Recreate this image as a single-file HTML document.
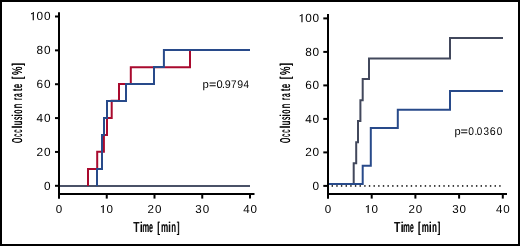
<!DOCTYPE html>
<html><head><meta charset="utf-8"><style>
html,body{margin:0;padding:0;background:#fff;}
body{width:520px;height:246px;overflow:hidden;}
svg{display:block;will-change:transform;text-rendering:geometricPrecision;font-family:"Liberation Sans",sans-serif;}
</style></head><body>
<svg width="520" height="246" viewBox="0 0 520 246">
<rect x="0" y="0" width="520" height="246" fill="#fff"/>
<path d="M59 186 L250 186" fill="none" stroke="#4a5167" stroke-width="2" stroke-linejoin="miter" stroke-linecap="butt"/>
<path d="M88 186 L88 169 L97.2 169 L97.2 151.7 L103.9 151.7 L103.9 135 L107 135 L107 117.9 L111.7 117.9 L111.7 100.7 L119 100.7 L119 84 L130.8 84 L130.8 67.2 L190 67.2 L190 50.1 L250 50.1" fill="none" stroke="#a90a2e" stroke-width="2" stroke-linejoin="miter" stroke-linecap="butt"/>
<path d="M97 186 L97 169 L102 169 L102 135 L104 135 L104 117.9 L107 117.9 L107 101 L126 101 L126 84 L154 84 L154 67 L163.9 67 L163.9 50.1 L250 50.1" fill="none" stroke="#284a8a" stroke-width="2" stroke-linejoin="miter" stroke-linecap="butt"/>
<line x1="59" y1="12.3" x2="59" y2="198.5" stroke="#000" stroke-width="2" stroke-linecap="butt"/>
<line x1="55" y1="16.5" x2="59" y2="16.5" stroke="#000" stroke-width="2" stroke-linecap="butt"/>
<line x1="55" y1="50.36" x2="59" y2="50.36" stroke="#000" stroke-width="2" stroke-linecap="butt"/>
<line x1="55" y1="84.22" x2="59" y2="84.22" stroke="#000" stroke-width="2" stroke-linecap="butt"/>
<line x1="55" y1="118.08" x2="59" y2="118.08" stroke="#000" stroke-width="2" stroke-linecap="butt"/>
<line x1="55" y1="151.94" x2="59" y2="151.94" stroke="#000" stroke-width="2" stroke-linecap="butt"/>
<line x1="55" y1="185.8" x2="59" y2="185.8" stroke="#000" stroke-width="2" stroke-linecap="butt"/>
<line x1="58" y1="194.1" x2="254.5" y2="194.1" stroke="#000" stroke-width="2" stroke-linecap="butt"/>
<line x1="59" y1="194.1" x2="59" y2="198.6" stroke="#000" stroke-width="2" stroke-linecap="butt"/>
<line x1="106.75" y1="194.1" x2="106.75" y2="198.6" stroke="#000" stroke-width="2" stroke-linecap="butt"/>
<line x1="154.5" y1="194.1" x2="154.5" y2="198.6" stroke="#000" stroke-width="2" stroke-linecap="butt"/>
<line x1="202.25" y1="194.1" x2="202.25" y2="198.6" stroke="#000" stroke-width="2" stroke-linecap="butt"/>
<line x1="250" y1="194.1" x2="250" y2="198.6" stroke="#000" stroke-width="2" stroke-linecap="butt"/>
<rect x="331.6" y="185.1" width="1.4" height="1.7" fill="#222"/>
<rect x="336.26" y="185.1" width="1.4" height="1.7" fill="#222"/>
<rect x="340.91" y="185.1" width="1.4" height="1.7" fill="#222"/>
<rect x="345.57" y="185.1" width="1.4" height="1.7" fill="#222"/>
<rect x="350.22" y="185.1" width="1.4" height="1.7" fill="#222"/>
<rect x="354.88" y="185.1" width="1.4" height="1.7" fill="#222"/>
<rect x="359.54" y="185.1" width="1.4" height="1.7" fill="#222"/>
<rect x="364.19" y="185.1" width="1.4" height="1.7" fill="#222"/>
<rect x="368.85" y="185.1" width="1.4" height="1.7" fill="#222"/>
<rect x="373.5" y="185.1" width="1.4" height="1.7" fill="#222"/>
<rect x="378.16" y="185.1" width="1.4" height="1.7" fill="#222"/>
<rect x="382.82" y="185.1" width="1.4" height="1.7" fill="#222"/>
<rect x="387.47" y="185.1" width="1.4" height="1.7" fill="#222"/>
<rect x="392.13" y="185.1" width="1.4" height="1.7" fill="#222"/>
<rect x="396.78" y="185.1" width="1.4" height="1.7" fill="#222"/>
<rect x="401.44" y="185.1" width="1.4" height="1.7" fill="#222"/>
<rect x="406.1" y="185.1" width="1.4" height="1.7" fill="#222"/>
<rect x="410.75" y="185.1" width="1.4" height="1.7" fill="#222"/>
<rect x="415.41" y="185.1" width="1.4" height="1.7" fill="#222"/>
<rect x="420.06" y="185.1" width="1.4" height="1.7" fill="#222"/>
<rect x="424.72" y="185.1" width="1.4" height="1.7" fill="#222"/>
<rect x="429.38" y="185.1" width="1.4" height="1.7" fill="#222"/>
<rect x="434.03" y="185.1" width="1.4" height="1.7" fill="#222"/>
<rect x="438.69" y="185.1" width="1.4" height="1.7" fill="#222"/>
<rect x="443.34" y="185.1" width="1.4" height="1.7" fill="#222"/>
<rect x="448" y="185.1" width="1.4" height="1.7" fill="#222"/>
<rect x="452.66" y="185.1" width="1.4" height="1.7" fill="#222"/>
<rect x="457.31" y="185.1" width="1.4" height="1.7" fill="#222"/>
<rect x="461.97" y="185.1" width="1.4" height="1.7" fill="#222"/>
<rect x="466.62" y="185.1" width="1.4" height="1.7" fill="#222"/>
<rect x="471.28" y="185.1" width="1.4" height="1.7" fill="#222"/>
<rect x="475.94" y="185.1" width="1.4" height="1.7" fill="#222"/>
<rect x="480.59" y="185.1" width="1.4" height="1.7" fill="#222"/>
<rect x="485.25" y="185.1" width="1.4" height="1.7" fill="#222"/>
<rect x="489.9" y="185.1" width="1.4" height="1.7" fill="#222"/>
<rect x="494.56" y="185.1" width="1.4" height="1.7" fill="#222"/>
<rect x="499.22" y="185.1" width="1.4" height="1.7" fill="#222"/>
<path d="M353.7 184 L353.7 163.3 L356.2 163.3 L356.2 142.3 L358 142.3 L358 120.9 L360.4 120.9 L360.4 100.3 L362.7 100.3 L362.7 78.9 L369 78.9 L369 58.6 L450 58.6 L450 37.9 L503 37.9" fill="none" stroke="#42485c" stroke-width="2" stroke-linejoin="miter" stroke-linecap="butt"/>
<path d="M328 184 L362.7 184 L362.7 165.8 L370.8 165.8 L370.8 128.1 L397.8 128.1 L397.8 109.8 L450 109.8 L450 90.9 L503 90.9" fill="none" stroke="#284a8a" stroke-width="2" stroke-linejoin="miter" stroke-linecap="butt"/>
<line x1="328" y1="14.1" x2="328" y2="198.6" stroke="#000" stroke-width="2" stroke-linecap="butt"/>
<line x1="323.3" y1="18.4" x2="328" y2="18.4" stroke="#000" stroke-width="2" stroke-linecap="butt"/>
<line x1="323.3" y1="51.9" x2="328" y2="51.9" stroke="#000" stroke-width="2" stroke-linecap="butt"/>
<line x1="323.3" y1="85.4" x2="328" y2="85.4" stroke="#000" stroke-width="2" stroke-linecap="butt"/>
<line x1="323.3" y1="118.9" x2="328" y2="118.9" stroke="#000" stroke-width="2" stroke-linecap="butt"/>
<line x1="323.3" y1="152.4" x2="328" y2="152.4" stroke="#000" stroke-width="2" stroke-linecap="butt"/>
<line x1="323.3" y1="185.9" x2="328" y2="185.9" stroke="#000" stroke-width="2" stroke-linecap="butt"/>
<line x1="327" y1="194.1" x2="507" y2="194.1" stroke="#000" stroke-width="2" stroke-linecap="butt"/>
<line x1="328" y1="194.1" x2="328" y2="198.6" stroke="#000" stroke-width="2" stroke-linecap="butt"/>
<line x1="371.7" y1="194.1" x2="371.7" y2="198.6" stroke="#000" stroke-width="2" stroke-linecap="butt"/>
<line x1="415.4" y1="194.1" x2="415.4" y2="198.6" stroke="#000" stroke-width="2" stroke-linecap="butt"/>
<line x1="459.1" y1="194.1" x2="459.1" y2="198.6" stroke="#000" stroke-width="2" stroke-linecap="butt"/>
<line x1="502.8" y1="194.1" x2="502.8" y2="198.6" stroke="#000" stroke-width="2" stroke-linecap="butt"/>
<path d="M32.7 11.99 L33.85 11.99 L33.85 20.25 L32.7 20.25 Z M32.8 11.99 L31 13.49 L31 14.49 L32.8 13.39 Z" fill="#000"/>
<text x="36.55" y="20.25" font-size="11.8">0</text>
<text x="43.9" y="20.25" font-size="11.8">0</text>
<text x="36.55" y="54.11" font-size="11.8">8</text>
<text x="43.9" y="54.11" font-size="11.8">0</text>
<text x="36.51" y="87.97" font-size="11.8">6</text>
<text x="43.9" y="87.97" font-size="11.8">0</text>
<text x="36.59" y="121.83" font-size="11.8">4</text>
<text x="43.9" y="121.83" font-size="11.8">0</text>
<text x="36.55" y="155.69" font-size="11.8">2</text>
<text x="43.9" y="155.69" font-size="11.8">0</text>
<text x="43.9" y="189.55" font-size="11.8">0</text>
<text x="55.77" y="213" font-size="11.6">0</text>
<path d="M102.65 204.88 L103.8 204.88 L103.8 213 L102.65 213 Z M102.75 204.88 L100.95 206.38 L100.95 207.38 L102.75 206.28 Z" fill="#000"/>
<text x="106.55" y="213" font-size="11.6">0</text>
<text x="147.53" y="213" font-size="11.6">2</text>
<text x="154.88" y="213" font-size="11.6">0</text>
<text x="195.37" y="213" font-size="11.6">3</text>
<text x="202.69" y="213" font-size="11.6">0</text>
<text x="243.21" y="213" font-size="11.6">4</text>
<text x="250.52" y="213" font-size="11.6">0</text>
<path d="M301.4 13.89 L302.55 13.89 L302.55 22.15 L301.4 22.15 Z M301.5 13.89 L299.7 15.39 L299.7 16.39 L301.5 15.29 Z" fill="#000"/>
<text x="305.25" y="22.15" font-size="11.8">0</text>
<text x="312.6" y="22.15" font-size="11.8">0</text>
<text x="305.25" y="55.65" font-size="11.8">8</text>
<text x="312.6" y="55.65" font-size="11.8">0</text>
<text x="305.21" y="89.15" font-size="11.8">6</text>
<text x="312.6" y="89.15" font-size="11.8">0</text>
<text x="305.29" y="122.65" font-size="11.8">4</text>
<text x="312.6" y="122.65" font-size="11.8">0</text>
<text x="305.25" y="156.15" font-size="11.8">2</text>
<text x="312.6" y="156.15" font-size="11.8">0</text>
<text x="312.6" y="189.65" font-size="11.8">0</text>
<text x="324.77" y="213" font-size="11.6">0</text>
<path d="M367.6 204.88 L368.75 204.88 L368.75 213 L367.6 213 Z M367.7 204.88 L365.9 206.38 L365.9 207.38 L367.7 206.28 Z" fill="#000"/>
<text x="371.5" y="213" font-size="11.6">0</text>
<text x="408.43" y="213" font-size="11.6">2</text>
<text x="415.78" y="213" font-size="11.6">0</text>
<text x="452.22" y="213" font-size="11.6">3</text>
<text x="459.54" y="213" font-size="11.6">0</text>
<text x="496.01" y="213" font-size="11.6">4</text>
<text x="503.32" y="213" font-size="11.6">0</text>
<text transform="translate(205.85 87.7) scale(1.03 1)" x="-3.18" font-size="11.0">p</text>
<text transform="translate(212.65 87.7) scale(1.14 1)" x="-3.21" font-size="11.0">=</text>
<text transform="translate(219.55 87.7) scale(1.01 1)" x="-3.06" font-size="11.0">0</text>
<text transform="translate(223.5 87.7) scale(0.95 1)" x="-1.53" font-size="11.0">.</text>
<text transform="translate(227.7 87.7) scale(0.98 1)" x="-3.06" font-size="11.0">9</text>
<text transform="translate(233.85 87.7) scale(0.9 1)" x="-3.06" font-size="11.0">7</text>
<text transform="translate(240.05 87.7) scale(0.96 1)" x="-3.06" font-size="11.0">9</text>
<text transform="translate(246.25 87.7) scale(0.9 1)" x="-3.02" font-size="11.0">4</text>
<text transform="translate(457.7 134.5) scale(1.01 1)" x="-3.18" font-size="11.0">p</text>
<text transform="translate(464.2 134.5) scale(1.16 1)" x="-3.21" font-size="11.0">=</text>
<text transform="translate(471.05 134.5) scale(0.93 1)" x="-3.06" font-size="11.0">0</text>
<text transform="translate(475.75 134.5) scale(0.9 1)" x="-1.53" font-size="11.0">.</text>
<text transform="translate(479.6 134.5) scale(0.9 1)" x="-3.06" font-size="11.0">0</text>
<text transform="translate(486.1 134.5) scale(0.9 1)" x="-3.03" font-size="11.0">3</text>
<text transform="translate(492.75 134.5) scale(0.97 1)" x="-3.1" font-size="11.0">6</text>
<text transform="translate(499.4 134.5) scale(0.9 1)" x="-3.06" font-size="11.0">0</text>
<g transform="translate(21.7 140.45) rotate(-90) scale(0.45 1)" font-size="14.2"><text x="-5.908">O</text><text x="-5.13">O</text></g>
<g transform="translate(21.7 135.3) rotate(-90) scale(0.45 1)" font-size="14.2"><text x="-4.053">c</text><text x="-3.276">c</text></g>
<g transform="translate(21.7 131.15) rotate(-90) scale(0.45 1)" font-size="14.2"><text x="-4.053">c</text><text x="-3.276">c</text></g>
<g transform="translate(21.7 127) rotate(-90) scale(0.8 1)" font-size="14.2"><text x="-1.8">l</text><text x="-1.362">l</text></g>
<g transform="translate(21.7 123.05) rotate(-90) scale(0.572 1)" font-size="14.2"><text x="-4.244">u</text><text x="-3.632">u</text></g>
<g transform="translate(21.7 118.3) rotate(-90) scale(0.45 1)" font-size="14.2"><text x="-3.88">s</text><text x="-3.102">s</text></g>
<g transform="translate(21.7 115.35) rotate(-90) scale(0.8 1)" font-size="14.2"><text x="-1.793">i</text><text x="-1.355">i</text></g>
<g transform="translate(21.7 111.7) rotate(-90) scale(0.5 1)" font-size="14.2"><text x="-4.299">o</text><text x="-3.598">o</text></g>
<g transform="translate(21.7 105.9) rotate(-90) scale(0.555 1)" font-size="14.2"><text x="-4.274">n</text><text x="-3.644">n</text></g>
<g transform="translate(21.7 98.8) rotate(-90) scale(0.45 1)" font-size="14.2"><text x="-3.107">r</text><text x="-2.329">r</text></g>
<g transform="translate(21.7 94.9) rotate(-90) scale(0.459 1)" font-size="14.2"><text x="-4.631">a</text><text x="-3.869">a</text></g>
<g transform="translate(21.7 89.85) rotate(-90) scale(0.62 1)" font-size="14.2"><text x="-2.31">t</text><text x="-1.746">t</text></g>
<g transform="translate(21.7 85.9) rotate(-90) scale(0.533 1)" font-size="14.2"><text x="-4.263">e</text><text x="-3.606">e</text></g>
<g transform="translate(21.7 77.65) rotate(-90) scale(0.65 1)" font-size="14.2"><text x="-2.693">[</text><text x="-2.154">[</text></g>
<g transform="translate(21.7 70.75) rotate(-90) scale(0.659 1)" font-size="14.2"><text x="-6.579">%</text><text x="-6.047">%</text></g>
<g transform="translate(21.7 64.65) rotate(-90) scale(0.65 1)" font-size="14.2"><text x="-1.791">]</text><text x="-1.253">]</text></g>
<g transform="translate(290.2 140.45) rotate(-90) scale(0.45 1)" font-size="14.2"><text x="-5.908">O</text><text x="-5.13">O</text></g>
<g transform="translate(290.2 135.3) rotate(-90) scale(0.45 1)" font-size="14.2"><text x="-4.053">c</text><text x="-3.276">c</text></g>
<g transform="translate(290.2 131.15) rotate(-90) scale(0.45 1)" font-size="14.2"><text x="-4.053">c</text><text x="-3.276">c</text></g>
<g transform="translate(290.2 127) rotate(-90) scale(0.8 1)" font-size="14.2"><text x="-1.8">l</text><text x="-1.362">l</text></g>
<g transform="translate(290.2 123.05) rotate(-90) scale(0.572 1)" font-size="14.2"><text x="-4.244">u</text><text x="-3.632">u</text></g>
<g transform="translate(290.2 118.3) rotate(-90) scale(0.45 1)" font-size="14.2"><text x="-3.88">s</text><text x="-3.102">s</text></g>
<g transform="translate(290.2 115.35) rotate(-90) scale(0.8 1)" font-size="14.2"><text x="-1.793">i</text><text x="-1.355">i</text></g>
<g transform="translate(290.2 111.7) rotate(-90) scale(0.5 1)" font-size="14.2"><text x="-4.299">o</text><text x="-3.598">o</text></g>
<g transform="translate(290.2 105.9) rotate(-90) scale(0.555 1)" font-size="14.2"><text x="-4.274">n</text><text x="-3.644">n</text></g>
<g transform="translate(290.2 98.8) rotate(-90) scale(0.45 1)" font-size="14.2"><text x="-3.107">r</text><text x="-2.329">r</text></g>
<g transform="translate(290.2 94.9) rotate(-90) scale(0.459 1)" font-size="14.2"><text x="-4.631">a</text><text x="-3.869">a</text></g>
<g transform="translate(290.2 89.85) rotate(-90) scale(0.62 1)" font-size="14.2"><text x="-2.31">t</text><text x="-1.746">t</text></g>
<g transform="translate(290.2 85.9) rotate(-90) scale(0.533 1)" font-size="14.2"><text x="-4.263">e</text><text x="-3.606">e</text></g>
<g transform="translate(290.2 77.65) rotate(-90) scale(0.65 1)" font-size="14.2"><text x="-2.693">[</text><text x="-2.154">[</text></g>
<g transform="translate(290.2 70.75) rotate(-90) scale(0.659 1)" font-size="14.2"><text x="-6.579">%</text><text x="-6.047">%</text></g>
<g transform="translate(290.2 64.65) rotate(-90) scale(0.65 1)" font-size="14.2"><text x="-1.791">]</text><text x="-1.253">]</text></g>
<g transform="translate(136.45 231.8) scale(0.729 1)" font-size="14.2"><text x="-4.642">T</text><text x="-4.025">T</text></g>
<g transform="translate(141.3 231.8) scale(0.8 1)" font-size="14.2"><text x="-1.855">i</text><text x="-1.293">i</text></g>
<g transform="translate(145.65 231.8) scale(0.548 1)" font-size="14.2"><text x="-6.329">m</text><text x="-5.507">m</text></g>
<g transform="translate(151.1 231.8) scale(0.45 1)" font-size="14.2"><text x="-4.435">e</text><text x="-3.435">e</text></g>
<g transform="translate(158.85 231.8) scale(0.65 1)" font-size="14.2"><text x="-2.769">[</text><text x="-2.077">[</text></g>
<g transform="translate(164.55 231.8) scale(0.568 1)" font-size="14.2"><text x="-6.314">m</text><text x="-5.522">m</text></g>
<g transform="translate(169.45 231.8) scale(0.8 1)" font-size="14.2"><text x="-1.855">i</text><text x="-1.293">i</text></g>
<g transform="translate(173.65 231.8) scale(0.572 1)" font-size="14.2"><text x="-4.352">n</text><text x="-3.566">n</text></g>
<g transform="translate(178 231.8) scale(0.65 1)" font-size="14.2"><text x="-1.868">]</text><text x="-1.176">]</text></g>
<g transform="translate(397.25 231.8) scale(0.729 1)" font-size="14.2"><text x="-4.642">T</text><text x="-4.025">T</text></g>
<g transform="translate(402.1 231.8) scale(0.8 1)" font-size="14.2"><text x="-1.855">i</text><text x="-1.293">i</text></g>
<g transform="translate(406.45 231.8) scale(0.548 1)" font-size="14.2"><text x="-6.329">m</text><text x="-5.507">m</text></g>
<g transform="translate(411.9 231.8) scale(0.45 1)" font-size="14.2"><text x="-4.435">e</text><text x="-3.435">e</text></g>
<g transform="translate(419.65 231.8) scale(0.65 1)" font-size="14.2"><text x="-2.769">[</text><text x="-2.077">[</text></g>
<g transform="translate(425.35 231.8) scale(0.568 1)" font-size="14.2"><text x="-6.314">m</text><text x="-5.522">m</text></g>
<g transform="translate(430.25 231.8) scale(0.8 1)" font-size="14.2"><text x="-1.855">i</text><text x="-1.293">i</text></g>
<g transform="translate(434.45 231.8) scale(0.572 1)" font-size="14.2"><text x="-4.352">n</text><text x="-3.566">n</text></g>
<g transform="translate(438.8 231.8) scale(0.65 1)" font-size="14.2"><text x="-1.868">]</text><text x="-1.176">]</text></g>
<rect x="1" y="1" width="518" height="244" fill="none" stroke="#000" stroke-width="2"/>
</svg>
</body></html>
